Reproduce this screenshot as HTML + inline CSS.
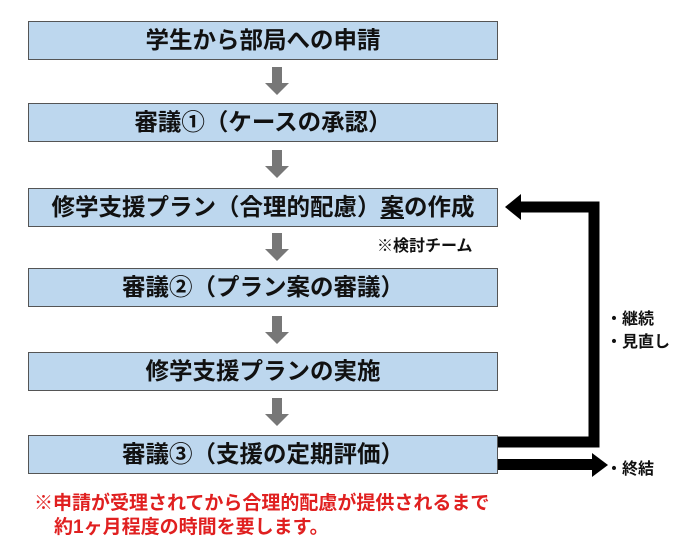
<!DOCTYPE html>
<html><head><meta charset="utf-8"><style>
body{margin:0;width:680px;height:549px;background:#fff;position:relative;overflow:hidden;font-family:"Liberation Sans","Noto Sans CJK JP",sans-serif;}
.b{position:absolute;left:28px;width:468px;height:37px;background:#bdd7ee;border:1px solid #555;text-align:center;line-height:37px;font-size:23.5px;font-weight:bold;color:#111;white-space:nowrap;}
.a{position:absolute;left:272px;width:10px;height:16px;background:#777;}
.a:after{content:"";position:absolute;left:-7px;top:16px;border-left:12px solid transparent;border-right:12px solid transparent;border-top:12px solid #777;}
.t{position:absolute;font-size:16px;font-weight:bold;color:#111;white-space:nowrap;}
.r{position:absolute;font-size:19px;font-weight:bold;color:#e02020;white-space:nowrap;}
</style></head><body>
<div class="b" style="top:21px">学生から部局への申請</div>
<div class="a" style="top:67px"></div>
<div class="b" style="top:103px">審議①（ケースの承認）</div>
<div class="a" style="top:150px"></div>
<div class="b" style="top:188px">修学支援プラン（合理的配慮）<u>案</u>の作成</div>
<div class="a" style="top:233px"></div>
<div class="b" style="top:268px">審議②（プラン案の審議）</div>
<div class="a" style="top:316px"></div>
<div class="b" style="top:352px">修学支援プランの実施</div>
<div class="a" style="top:398px"></div>
<div class="b" style="top:435px">審議③（支援の定期評価）</div>
<svg style="position:absolute;left:0;top:0" width="680" height="549">
<polyline points="498,442 594,442 594,207 518,207" fill="none" stroke="#000" stroke-width="11"/>
<polygon points="505,207 521,194 521,220" fill="#000"/>
<rect x="498" y="459" width="96" height="11" fill="#000"/>
<polygon points="608,465 592,453 592,477" fill="#000"/>
</svg>
<div class="t" style="left:377px;top:232px">※検討チーム</div>
<div class="t" style="left:606px;top:305px">・継続</div>
<div class="t" style="left:606px;top:328px">・見直し</div>
<div class="t" style="left:606px;top:455px">・終結</div>
<div class="r" style="left:34px;top:488px">※申請が受理されてから合理的配慮が提供されるまで</div>
<div class="r" style="left:54px;top:512px">約1ヶ月程度の時間を要します。</div>
</body></html>
